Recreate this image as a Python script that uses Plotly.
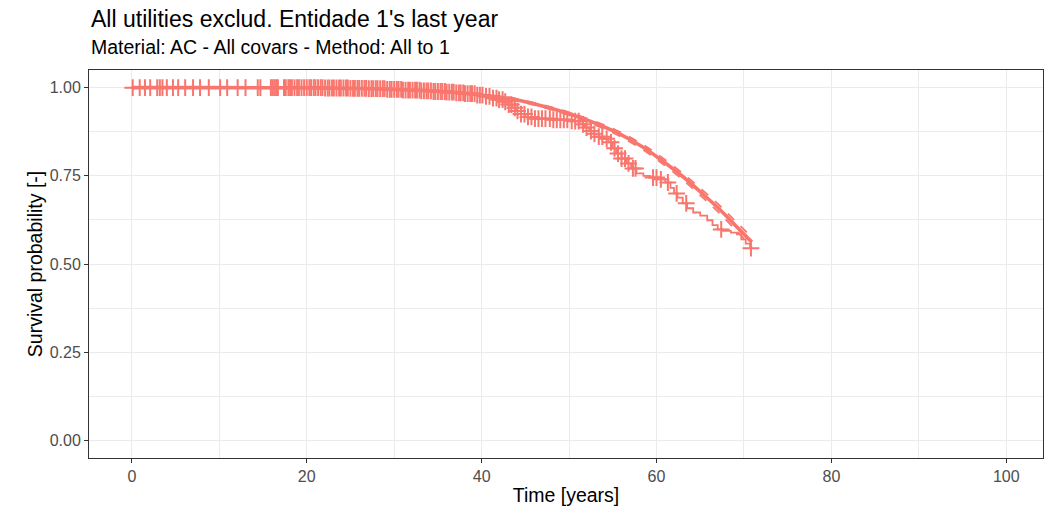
import plotly.graph_objects as go
import numpy as np

# Kaplan-Meier step curve (time in years, survival probability)
km_t = [0, 22, 25, 27, 29, 31, 33, 34.5, 36, 37, 38, 39.5, 40.3, 41.0, 42.0, 42.6, 43.0, 43.5,
        44.0, 44.5, 45.0, 45.8, 48.0, 50.0, 50.5, 51.2, 51.8, 52.3, 52.8, 53.4, 54.0, 54.5,
        55.0, 55.4, 56.0, 56.6, 57.1, 57.7, 58.5, 59.3, 60.2, 61.0, 61.6, 62.0, 62.4, 63.0,
        63.5, 64.2, 65.0, 65.8, 66.4, 67.0, 67.6, 68.5, 69.2, 69.7, 70.2, 70.7, 70.9]
km_s = [1.0, 0.999, 0.998, 0.997, 0.995, 0.993, 0.991, 0.989, 0.987, 0.985, 0.983, 0.979,
        0.975, 0.970, 0.966, 0.960, 0.952, 0.943, 0.934, 0.925, 0.917, 0.912, 0.909, 0.906,
        0.905, 0.896, 0.887, 0.877, 0.869, 0.861, 0.855, 0.845, 0.828, 0.813, 0.799, 0.785,
        0.771, 0.757, 0.750, 0.745, 0.740, 0.731, 0.716, 0.700, 0.688, 0.672, 0.658, 0.646,
        0.637, 0.624, 0.610, 0.598, 0.594, 0.589, 0.584, 0.570, 0.558, 0.545, 0.545]

# Censoring times (+ marks)
censor_t = [0.1, 0.9, 1.5, 2.1, 2.9, 3.2, 3.5, 4.0, 4.7, 5.3, 6.1, 7.0, 7.8, 8.8, 10.1, 10.9,
            12.1, 13.0, 14.4, 14.7, 15.9, 16.1, 16.3, 16.5, 16.7, 17.4, 17.6, 17.9, 18.1, 18.3,
            18.6, 18.9, 19.1, 19.4, 19.7, 20.0, 20.3, 20.5, 20.8, 21.0, 21.3, 21.6, 21.8, 22.1,
            22.4, 22.6, 22.9, 23.1, 23.4, 23.7, 23.9, 24.2, 24.5, 24.7, 25.0, 25.3, 25.5, 25.8,
            26.0, 26.3, 26.6, 26.8, 27.1, 27.4, 27.6, 27.9, 28.1, 28.4, 28.7, 28.9, 29.2, 29.5,
            29.7, 30.0, 30.3, 30.5, 30.8, 31.0, 31.3, 31.6, 31.8, 32.1, 32.4, 32.6, 32.9, 33.1,
            33.4, 33.7, 33.9, 34.2, 34.5, 34.7, 35.0, 35.3, 35.5, 35.8, 36.0, 36.3, 36.6, 36.8,
            37.1, 37.4, 37.6, 37.9, 38.1, 38.4, 38.7, 38.9, 39.2, 39.5, 39.8, 40.1, 40.5, 40.9,
            41.3, 41.7, 42.0, 42.4, 42.7, 43.1, 43.4, 43.8, 44.1, 44.5, 44.9, 45.3, 45.7, 46.1,
            46.5, 46.9, 47.3, 47.8, 48.2, 48.6, 49.0, 49.4, 49.8, 50.3, 50.7, 51.1, 51.6, 52.0,
            52.5, 52.9, 53.4, 53.8, 54.3, 54.8, 55.2, 55.6, 56.0, 56.4, 56.8, 57.3, 57.6, 59.6,
            60.0, 60.5, 61.3, 62.3, 63.4, 67.4, 70.8]

# Fitted parametric survival curve with confidence bounds
fit_t = [0, 10, 20, 25, 30, 35, 40, 43, 45, 50, 55, 58, 60, 63, 65, 67, 69, 70.9]
fit_s = [1.0, 1.0, 0.999, 0.998, 0.995, 0.990, 0.979, 0.970, 0.960, 0.926, 0.878, 0.838,
         0.805, 0.748, 0.705, 0.660, 0.610, 0.562]
fit_lo = [1.0, 1.0, 0.999, 0.998, 0.994, 0.989, 0.977, 0.967, 0.957, 0.922, 0.872, 0.831,
          0.797, 0.739, 0.695, 0.649, 0.598, 0.548]
fit_hi = [1.0, 1.0, 0.999, 0.998, 0.996, 0.991, 0.981, 0.973, 0.963, 0.930, 0.884, 0.845,
          0.813, 0.757, 0.715, 0.671, 0.622, 0.576]

x_ticks = [0, 20, 40, 60, 80, 100]
y_ticks = [0.00, 0.25, 0.50, 0.75, 1.00]

col = "#F8766D"
FONT = "Liberation Sans, Arial, Helvetica, sans-serif"

# survival at censor times from the KM step function
km_t_arr = np.array(km_t)
km_s_arr = np.array(km_s)
idx = np.searchsorted(km_t_arr, np.array(censor_t), side="right") - 1
censor_s = km_s_arr[idx]

fig = go.Figure()
fig.add_trace(go.Scatter(x=km_t, y=km_s, mode="lines", line=dict(color=col, width=1.8, shape="hv"),
                         showlegend=False, hoverinfo="skip"))
fig.add_trace(go.Scatter(x=censor_t, y=censor_s, mode="markers",
                         marker=dict(symbol="cross-thin", size=12, line=dict(color=col, width=2)),
                         showlegend=False))
fig.add_trace(go.Scatter(x=fit_t, y=fit_lo, mode="lines",
                         line=dict(color=col, width=1.8, dash="dash", shape="spline"), showlegend=False))
fig.add_trace(go.Scatter(x=fit_t, y=fit_hi, mode="lines",
                         line=dict(color=col, width=1.8, dash="dash", shape="spline"), showlegend=False))
fig.add_trace(go.Scatter(x=fit_t, y=fit_s, mode="lines",
                         line=dict(color=col, width=3.6, shape="spline"), showlegend=False))

grid = "#EBEBEB"
axis_common = dict(showline=True, mirror=True, linecolor="#333333", linewidth=1,
                   ticks="outside", ticklen=4, tickcolor="#333333", tickwidth=1.2,
                   showgrid=True, gridcolor=grid, gridwidth=1.3, zeroline=False, automargin=False,
                   tickfont=dict(family=FONT, size=16, color="#4D4D4D"))

fig.update_xaxes(range=[-4.9, 104.2], tickvals=x_ticks, ticktext=[str(v) for v in x_ticks],
                 minor=dict(tickvals=[10, 30, 50, 70, 90], showgrid=True, gridcolor=grid, gridwidth=0.7,
                            ticks=""),
                 title=dict(text="Time [years]", font=dict(family=FONT, size=19.5, color="black"), standoff=4),
                 **axis_common)
fig.update_yaxes(range=[-0.05, 1.05], tickvals=y_ticks, ticktext=["0.00", "0.25", "0.50", "0.75", "1.00"],
                 minor=dict(tickvals=[0.125, 0.375, 0.625, 0.875], showgrid=True, gridcolor=grid,
                            gridwidth=0.7, ticks=""),
                 title=dict(text="Survival probability [-]", font=dict(family=FONT, size=19.5, color="black"),
                            standoff=1),
                 **axis_common)

fig.update_layout(
    width=1051, height=508,
    margin=dict(l=89, r=8, t=70, b=50),
    paper_bgcolor="white", plot_bgcolor="white",
    font=dict(family=FONT),
    annotations=[
        dict(text="All utilities exclud. Entidade 1's last year", xref="paper", yref="paper",
             x=0, y=1.1325, xanchor="left", yanchor="middle", showarrow=False,
             font=dict(family=FONT, size=23, color="black")),
        dict(text="Material: AC - All covars - Method: All to 1", xref="paper", yref="paper",
             x=0, y=1.058, xanchor="left", yanchor="middle", showarrow=False,
             font=dict(family=FONT, size=19.5, color="black")),
    ],
)

# remove the page's default body margin so the figure fills the window exactly
fig.write_html("out.html", config={"displayModeBar": False},
               post_script="document.body.style.margin='0';document.body.style.overflow='hidden';")
